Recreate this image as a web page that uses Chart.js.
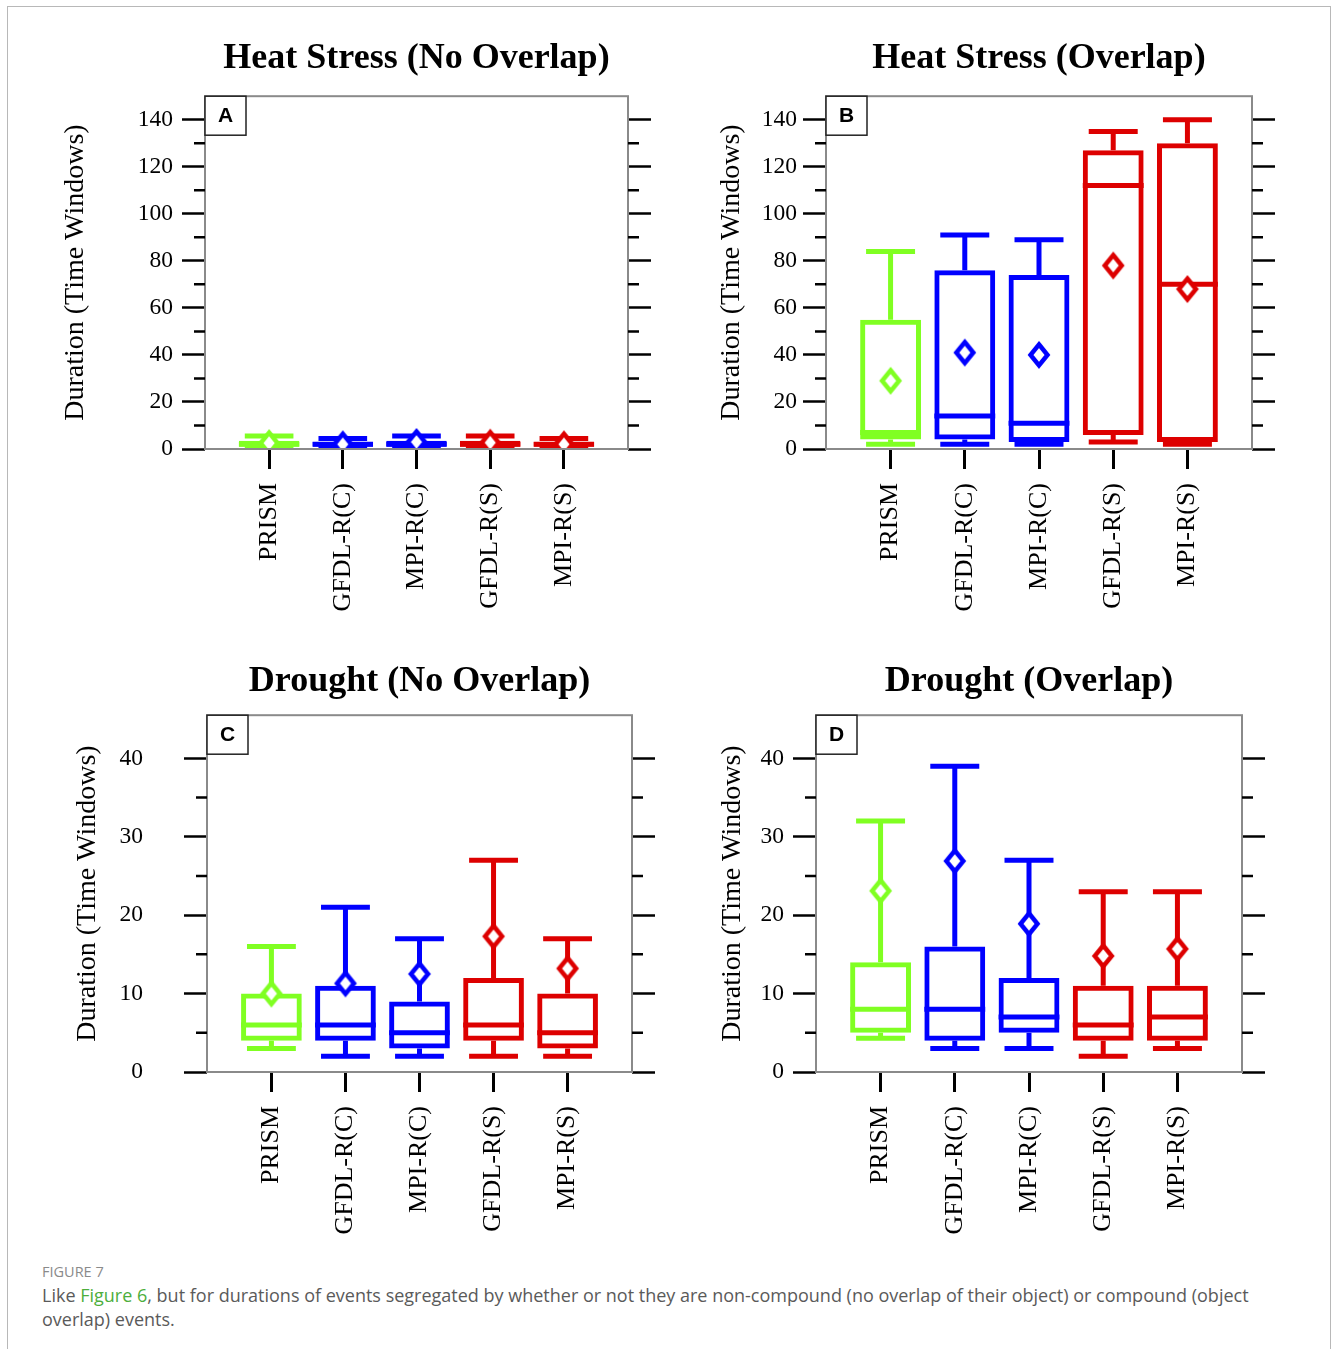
<!DOCTYPE html>
<html>
<head>
<meta charset="utf-8">
<script src="https://cdn.jsdelivr.net/npm/chart.js@4.4.1/dist/chart.umd.min.js"></script>
<style>
  body { margin: 0; background: #fff; width: 1331px; height: 1349px; position: relative; overflow: hidden; }
  .outer { position: absolute; left: 7px; top: 6px; width: 1322px; height: 1400px; border: 1px solid #b8b8b8; }
  .panel { position: absolute; }
  #cap { position: absolute; left: 42px; top: 1262px; width: 1270px; font-family: 'Open Sans', 'Noto Sans', sans-serif; }
  #cap .fig { font-size: 14.5px; color: #8a8a8a; line-height: 20px; }
  #cap p { margin: 1px 0 0 0; font-size: 18px; line-height: 24px; color: #5a5a5a; }
  #cap .g { color: #4cae3c; }
</style>
</head>
<body>
<div class="outer"></div>
<div class="panel" style="left:0;top:0"><canvas id="chartA" width="665" height="640"></canvas></div>
<div class="panel" style="left:665px;top:0"><canvas id="chartB" width="666" height="640"></canvas></div>
<div class="panel" style="left:0;top:620px"><canvas id="chartC" width="665" height="630"></canvas></div>
<div class="panel" style="left:665px;top:620px"><canvas id="chartD" width="666" height="630"></canvas></div>
<div id="cap">
  <div class="fig">FIGURE 7</div>
  <p>Like <span class="g">Figure 6</span>, but for durations of events segregated by whether or not they are non-compound (no overlap of their object) or compound (object<br>overlap) events.</p>
</div>
<script>
// Categories and tick values
const categories = ['PRISM', 'GFDL-R(C)', 'MPI-R(C)', 'GFDL-R(S)', 'MPI-R(S)'];
const heatTicks = [0, 20, 40, 60, 80, 100, 120, 140];
const heatMinor = [10, 30, 50, 70, 90, 110, 130];
const droughtTicks = [0, 10, 20, 30, 40];
const droughtMinor = [5, 15, 25, 35];

// A: Heat Stress (No Overlap)
const heatNoMin  = [1, 1, 1, 1, 1];
const heatNoQ1   = [1, 1, 1, 1, 1];
const heatNoMed  = [2, 2, 2, 2, 2];
const heatNoQ3   = [3.5, 3, 3.5, 3.5, 3];
const heatNoMax  = [5.5, 4.5, 5.5, 5.5, 4.5];
const heatNoMean = [2.5, 2, 3, 2.7, 2];

// B: Heat Stress (Overlap)
const heatOvMin  = [2, 2, 2, 3, 2];
const heatOvQ1   = [4, 4, 3, 6, 3];
const heatOvMed  = [7, 14, 11, 112, 70];
const heatOvQ3   = [55, 76, 74, 127, 130];
const heatOvMax  = [84, 91, 89, 135, 140];
const heatOvMean = [29, 41, 40, 78, 68];

// C: Drought (No Overlap)
const drNoMin  = [3, 2, 2, 2, 2];
const drNoQ1   = [4, 4, 3, 4, 3];
const drNoMed  = [6, 6, 5, 6, 5];
const drNoQ3   = [10, 11, 9, 12, 10];
const drNoMax  = [16, 21, 17, 27, 17];
const drNoMean = [10, 11.3, 12.5, 17.3, 13.2];

// D: Drought (Overlap)
const drOvMin  = [4.3, 3, 3, 2, 3];
const drOvQ1   = [5, 4, 5, 4, 4];
const drOvMed  = [8, 8, 7, 6, 7];
const drOvQ3   = [14, 16, 12, 11, 11];
const drOvMax  = [32, 39, 27, 23, 23];
const drOvMean = [23.1, 26.9, 18.9, 14.8, 15.7];

// Colours per category
const boxColors = ['#80ff22', '#0000ff', '#0000ff', '#dd0000', '#dd0000'];
const serif = "'Liberation Serif', 'Times New Roman', serif";

// Diamond marker for the means
function makeDiamond(color) {
    const c = document.createElement('canvas');
    c.width = 26; c.height = 32;
    const g = c.getContext('2d');
    g.lineWidth = 4.5;
    g.lineJoin = 'miter';
    g.strokeStyle = color;
    g.fillStyle = '#fff';
    g.beginPath();
    g.moveTo(13, 5.5); g.lineTo(21.5, 16); g.lineTo(13, 26.5); g.lineTo(4.5, 16);
    g.closePath();
    g.fill();
    g.stroke();
    return c;
}
const diamonds = boxColors.map(makeDiamond);

// Whiskers, caps and medians, drawn under the boxes
const whiskerPlugin = {
    id: 'whiskers',
    beforeDatasetsDraw(chart, args, opts) {
        const ctx = chart.ctx, x = chart.scales.x, y = chart.scales.y;
        const s = opts.stats;
        const bars = chart.getDatasetMeta(1).data;
        ctx.save();
        ctx.lineWidth = 5;
        ctx.lineCap = 'butt';
        s.min.forEach((_, i) => {
            const cx = x.getPixelForValue(i);
            const half = x.getPixelForValue(i + 0.33) - cx;
            const yMin = y.getPixelForValue(s.min[i]), yMax = y.getPixelForValue(s.max[i]);
            const yMed = y.getPixelForValue(s.med[i]);
            const bw = bars[i].width / 2;
            ctx.strokeStyle = boxColors[i];
            ctx.beginPath();
            ctx.moveTo(cx, yMax); ctx.lineTo(cx, y.getPixelForValue(s.q3[i]));
            ctx.moveTo(cx, y.getPixelForValue(s.q1[i])); ctx.lineTo(cx, yMin);
            ctx.moveTo(cx - half, yMax); ctx.lineTo(cx + half, yMax);
            ctx.moveTo(cx - half, yMin); ctx.lineTo(cx + half, yMin);
            ctx.moveTo(cx - bw, yMed); ctx.lineTo(cx + bw, yMed);
            ctx.stroke();
        });
        ctx.restore();
    }
};

// Frame, minor ticks and the panel letter
const framePlugin = {
    id: 'frame',
    afterDraw(chart, args, opts) {
        const ctx = chart.ctx, a = chart.chartArea, y = chart.scales.y;
        ctx.save();
        ctx.strokeStyle = '#8a8a8a';
        ctx.lineWidth = 2;
        ctx.strokeRect(a.left, a.top, a.right - a.left, a.bottom - a.top);
        ctx.strokeStyle = '#000';
        ctx.lineWidth = 2.5;
        ctx.beginPath();
        opts.minor.forEach(v => {
            const py = y.getPixelForValue(v);
            ctx.moveTo(a.left - 11, py); ctx.lineTo(a.left, py);
            ctx.moveTo(a.right, py); ctx.lineTo(a.right + 11, py);
        });
        ctx.stroke();
        ctx.fillStyle = '#fff';
        ctx.fillRect(a.left, a.top, 41, 39);
        ctx.strokeStyle = '#222';
        ctx.lineWidth = 1.5;
        ctx.strokeRect(a.left, a.top, 41, 39);
        ctx.fillStyle = '#000';
        ctx.font = "bold 21px 'Liberation Sans', Arial, sans-serif";
        ctx.textAlign = 'center';
        ctx.textBaseline = 'middle';
        ctx.fillText(opts.letter, a.left + 20.5, a.top + 20);
        ctx.restore();
    }
};

function makePanel(canvasId, p) {
    const gridOpts = (len) => ({
        display: true,
        drawOnChartArea: false,
        drawTicks: true,
        tickLength: len,
        tickWidth: 2.5,
        tickColor: '#000',
        color: '#000'
    });
    return new Chart(document.getElementById(canvasId), {
        type: 'bar',
        data: {
            datasets: [{
                type: 'scatter',
                order: 0,
                data: p.mean.map((v, i) => ({ x: i, y: v })),
                pointStyle: diamonds,
                pointRadius: 10,
                pointBorderWidth: 0
            }, {
                type: 'bar',
                order: 1,
                data: p.q1.map((v, i) => ({ x: i, y: [v, p.q3[i]] })),
                backgroundColor: 'rgba(0,0,0,0)',
                borderColor: boxColors,
                borderWidth: 5,
                borderSkipped: false,
                barPercentage: 0.82,
                categoryPercentage: 1
            }]
        },
        options: {
            responsive: false,
            animation: false,
            events: [],
            layout: { padding: 0 },
            plugins: {
                legend: { display: false },
                tooltip: { enabled: false },
                title: {
                    display: true,
                    text: p.title,
                    fullSize: false,
                    color: '#000',
                    font: { family: serif, size: 36, weight: 'bold' },
                    padding: { top: p.titleTop, bottom: p.titleBottom }
                },
                whiskers: { stats: p },
                frame: { minor: p.minor, letter: p.letter }
            },
            scales: {
                x: {
                    type: 'linear',
                    min: -0.87,
                    max: 4.87,
                    offset: false,
                    afterBuildTicks: s => { s.ticks = categories.map((c, i) => ({ value: i })); },
                    afterFit: s => { s.height = p.xHeight; },
                    ticks: {
                        callback: v => categories[v],
                        autoSkip: false,
                        minRotation: 90,
                        maxRotation: 90,
                        padding: 14,
                        color: '#000',
                        font: { family: serif, size: 26 }
                    },
                    grid: Object.assign(gridOpts(20), { offset: false, tickWidth: 3 }),
                    border: { display: false }
                },
                y: {
                    position: 'left',
                    min: 0,
                    max: p.yMax,
                    afterBuildTicks: s => { s.ticks = p.ticks.map(v => ({ value: v })); },
                    afterFit: s => { s.width = p.leftWidth; },
                    ticks: {
                        padding: p.labelPad,
                        color: '#000',
                        font: { family: serif, size: 23.5 }
                    },
                    title: {
                        display: true,
                        text: 'Duration (Time Windows)',
                        color: '#000',
                        font: { family: serif, size: 28 },
                        padding: { top: p.yTitlePad, bottom: 0 }
                    },
                    grid: gridOpts(23),
                    border: { display: false }
                },
                yr: {
                    position: 'right',
                    min: 0,
                    max: p.yMax,
                    afterBuildTicks: s => { s.ticks = p.ticks.map(v => ({ value: v })); },
                    afterFit: s => { s.width = p.rightWidth; },
                    ticks: { display: false },
                    grid: gridOpts(23),
                    border: { display: false }
                }
            }
        },
        plugins: [whiskerPlugin, framePlugin]
    });
}

makePanel('chartA', {
    title: 'Heat Stress (No Overlap)', letter: 'A',
    min: heatNoMin, q1: heatNoQ1, med: heatNoMed, q3: heatNoQ3, max: heatNoMax, mean: heatNoMean,
    ticks: heatTicks, minor: heatMinor, yMax: 150,
    leftWidth: 205, rightWidth: 37, xHeight: 191,
    titleTop: 37, titleBottom: 16, yTitlePad: 59, labelPad: 9
});
makePanel('chartB', {
    title: 'Heat Stress (Overlap)', letter: 'B',
    min: heatOvMin, q1: heatOvQ1, med: heatOvMed, q3: heatOvQ3, max: heatOvMax, mean: heatOvMean,
    ticks: heatTicks, minor: heatMinor, yMax: 150,
    leftWidth: 161, rightWidth: 79, xHeight: 191,
    titleTop: 37, titleBottom: 16, yTitlePad: 50, labelPad: 6
});
makePanel('chartC', {
    title: 'Drought (No Overlap)', letter: 'C',
    min: drNoMin, q1: drNoQ1, med: drNoMed, q3: drNoQ3, max: drNoMax, mean: drNoMean,
    ticks: droughtTicks, minor: droughtMinor, yMax: 45.5,
    leftWidth: 207, rightWidth: 33, xHeight: 178,
    titleTop: 40, titleBottom: 12, yTitlePad: 71, labelPad: 41
});
makePanel('chartD', {
    title: 'Drought (Overlap)', letter: 'D',
    min: drOvMin, q1: drOvQ1, med: drOvMed, q3: drOvQ3, max: drOvMax, mean: drOvMean,
    ticks: droughtTicks, minor: droughtMinor, yMax: 45.5,
    leftWidth: 151, rightWidth: 89, xHeight: 178,
    titleTop: 40, titleBottom: 12, yTitlePad: 51, labelPad: 9
});
</script>
</body>
</html>
